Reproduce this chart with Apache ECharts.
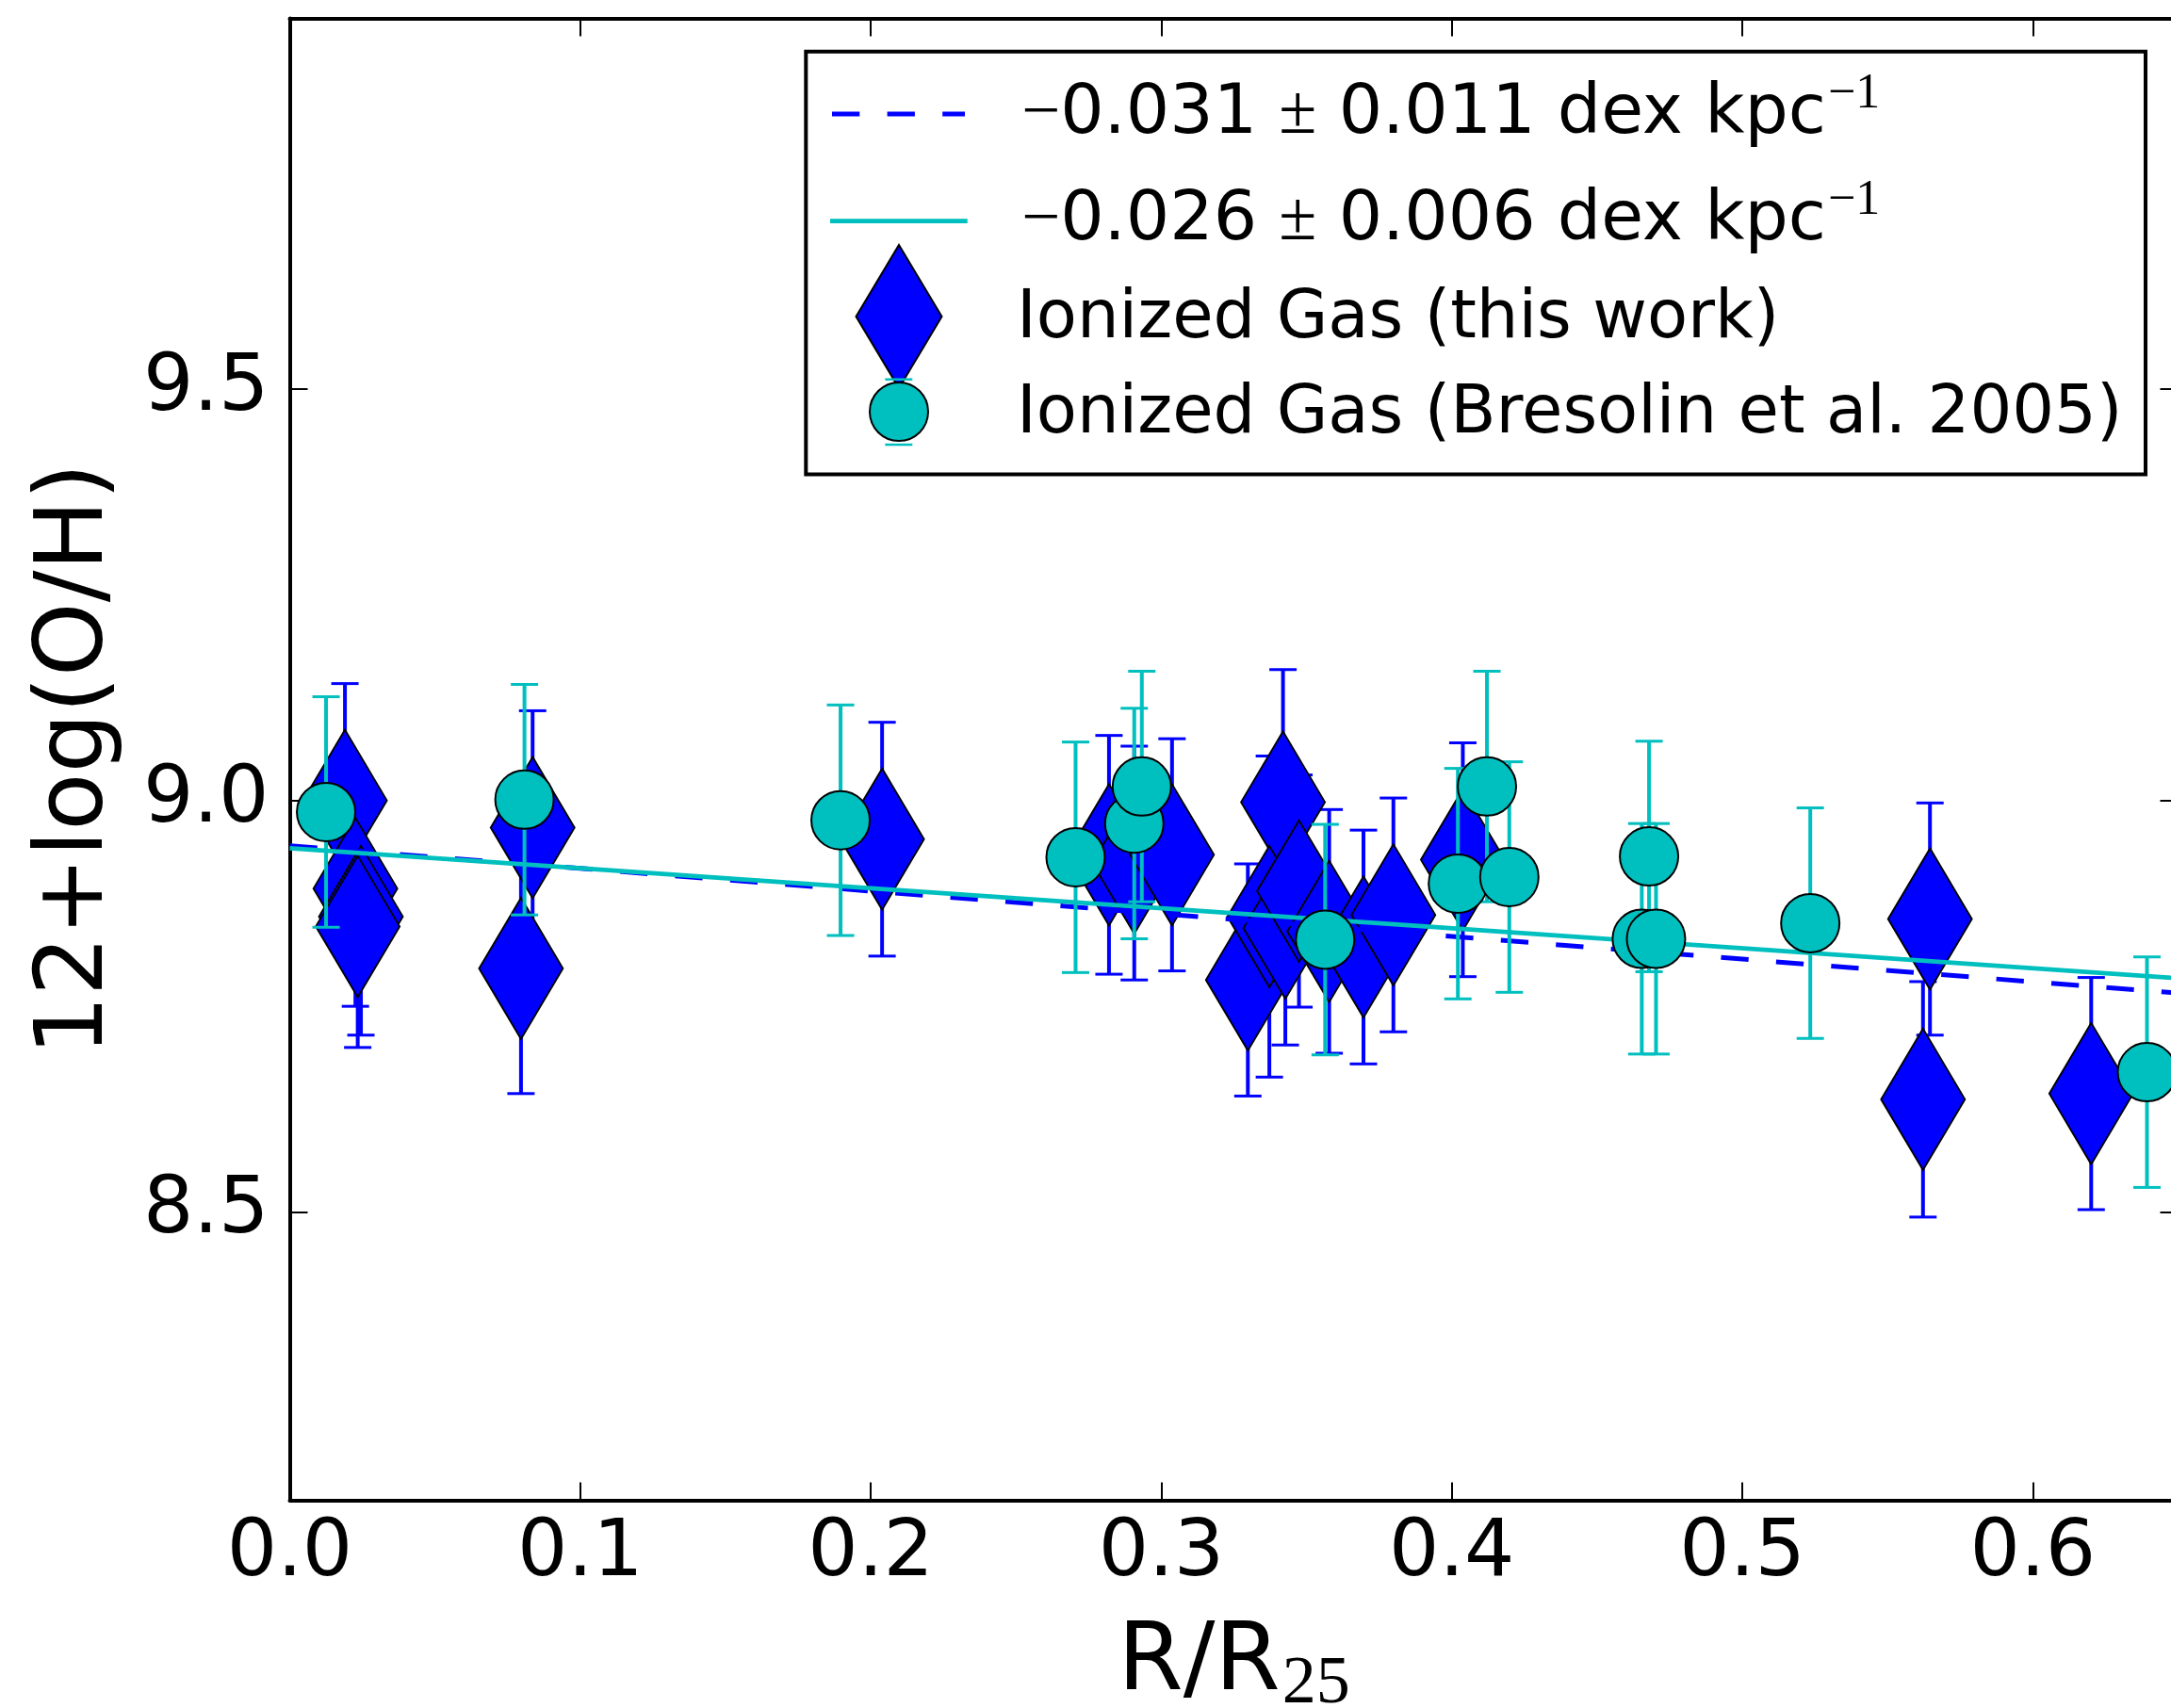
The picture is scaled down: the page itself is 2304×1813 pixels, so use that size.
<!DOCTYPE html>
<html>
<head>
<meta charset="utf-8">
<script src="https://cdn.jsdelivr.net/npm/echarts@6/dist/echarts.min.js"></script>
<style>
html,body{margin:0;padding:0;background:#ffffff;}
#chart{width:2304px;height:1813px;}
</style>
</head>
<body>
<div id="chart"></div>
<script>
// ---------------- data ----------------
const xTickValues = [0, 0.1, 0.2, 0.3, 0.4, 0.5, 0.6];
const yTickValues = [8.5, 9.0, 9.5];

// Ionized Gas (this work): R/R25, 12+log(O/H), error
const thisWorkR   = [0.019, 0.0226, 0.0245, 0.0234, 0.0836, 0.0796, 0.2039, 0.2820, 0.2907, 0.3037, 0.3419, 0.3298, 0.3372, 0.3427, 0.3474, 0.3578, 0.3696, 0.3799, 0.4038, 0.5646, 0.5622, 0.6201];
const thisWorkOH  = [9.000, 8.893, 8.859, 8.847, 8.967, 8.796, 8.953, 8.934, 8.924, 8.934, 8.998, 8.782, 8.859, 8.845, 8.890, 8.841, 8.822, 8.861, 8.928, 8.856, 8.637, 8.644];
const thisWorkErr = [0.142, 0.143, 0.144, 0.147, 0.142, 0.152, 0.142, 0.145, 0.142, 0.141, 0.161, 0.141, 0.195, 0.142, 0.141, 0.148, 0.142, 0.142, 0.142, 0.141, 0.143, 0.141];

// Ionized Gas (Bresolin et al. 2005)
const bresR   = [0.0125, 0.0808, 0.1896, 0.2705, 0.2907, 0.2933, 0.3564, 0.4021, 0.4121, 0.4198, 0.4679, 0.4654, 0.4703, 0.5234, 0.6393];
const bresOH  = [8.986, 9.001, 8.976, 8.931, 8.972, 9.017, 8.831, 8.899, 9.017, 8.907, 8.932, 8.832, 8.832, 8.851, 8.670];
const bresErr = [0.14, 0.14, 0.14, 0.14, 0.14, 0.14, 0.14, 0.14, 0.14, 0.14, 0.14, 0.14, 0.14, 0.14, 0.14];

// linear fits
const fitR        = [0, 0.65];
const fitDashedOH = [8.945, 8.766];
const fitSolidOH  = [8.942, 8.784];

const legendNames = [
  '{m|\u2212}{t|0.031 }{m|\u00b1}{t| 0.011 dex kpc}{s|\u22121}',
  '{m|\u2212}{t|0.026 }{m|\u00b1}{t| 0.006 dex kpc}{s|\u22121}',
  'Ionized Gas (this work)',
  'Ionized Gas (Bresolin et al. 2005)'
];
const xTitle = '{a|R/R}{b|25}';
const yTitle = '12+log(O/H)';

// ---------------- build ----------------
const BLUE = '#0000ff';
const CYAN = '#00bfbf';
const FONT = 'DejaVu Sans';

function zip3(a, b, c) { return a.map((v, i) => [v, b[i], c[i]]); }
function zip2(a, b) { return a.map((v, i) => [v, b[i]]); }

function errRender(color) {
  return function (params, api) {
    const x = api.value(0), y = api.value(1), e = api.value(2);
    const top = api.coord([x, y + e]);
    const bot = api.coord([x, y - e]);
    const cw = 14.5;
    return {
      type: 'group',
      children: [
        {type: 'line', shape: {x1: top[0], y1: top[1], x2: bot[0], y2: bot[1]}, style: {stroke: color, lineWidth: 4}},
        {type: 'line', shape: {x1: top[0] - cw, y1: top[1], x2: top[0] + cw, y2: top[1]}, style: {stroke: color, lineWidth: 3}},
        {type: 'line', shape: {x1: bot[0] - cw, y1: bot[1], x2: bot[0] + cw, y2: bot[1]}, style: {stroke: color, lineWidth: 3}}
      ]
    };
  };
}

const axisLineStyle = {show: true, onZero: false, lineStyle: {color: '#000', width: 4}};
const tickStyle = (vals) => ({show: true, inside: true, length: 19, lineStyle: {color: '#000', width: 2}, customValues: vals});

const chart = echarts.init(document.getElementById('chart'), null, {renderer: 'canvas'});

const legendTextRich = {
  m: {fontFamily: 'Liberation Serif', fontSize: 73, color: '#000', lineHeight: 120},
  t: {fontFamily: FONT, fontSize: 73, color: '#000', lineHeight: 120},
  s: {fontFamily: 'Liberation Serif', fontSize: 52, color: '#000', lineHeight: 40, padding: [0, 0, 44, 2]}
};

const option = {
  backgroundColor: '#ffffff',
  animation: false,
  grid: {left: 307.5, top: 19.5, width: 2004, height: 1573, containLabel: false, outerBoundsMode: 'none'},
  xAxis: [
    {
      type: 'value', position: 'bottom', min: 0, max: 0.65,
      axisLine: axisLineStyle,
      axisTick: tickStyle(xTickValues),
      axisLabel: {customValues: xTickValues, formatter: v => v.toFixed(1), fontSize: 84, fontFamily: FONT, color: '#000', margin: 16},
      splitLine: {show: false},
      name: xTitle, nameLocation: 'middle', nameGap: 97,
      nameTextStyle: {
        fontSize: 100, fontFamily: FONT, color: '#000', lineHeight: 140,
        rich: {
          a: {fontSize: 100, fontFamily: FONT, color: '#000', lineHeight: 140},
          b: {fontSize: 72, fontFamily: 'Liberation Serif', color: '#000', lineHeight: 40, padding: [42, 0, 0, 2]}
        }
      }
    },
    {
      type: 'value', position: 'top', min: 0, max: 0.65,
      axisLine: axisLineStyle,
      axisTick: tickStyle(xTickValues),
      axisLabel: {show: false},
      splitLine: {show: false}
    }
  ],
  yAxis: [
    {
      type: 'value', position: 'left', min: 8.15, max: 9.95,
      axisLine: axisLineStyle,
      axisTick: tickStyle(yTickValues),
      axisLabel: {customValues: yTickValues, formatter: v => v.toFixed(1), fontSize: 84, fontFamily: FONT, color: '#000', margin: 22},
      splitLine: {show: false},
      name: yTitle, nameLocation: 'middle', nameGap: 175, nameRotate: 90,
      nameTextStyle: {fontSize: 100, fontFamily: FONT, color: '#000'}
    },
    {
      type: 'value', position: 'right', min: 8.15, max: 9.95,
      axisLine: axisLineStyle,
      axisTick: tickStyle(yTickValues),
      axisLabel: {show: false},
      splitLine: {show: false}
    }
  ],
  series: [
    {
      name: 'err-this', type: 'custom', renderItem: errRender(BLUE),
      data: zip3(thisWorkR, thisWorkOH, thisWorkErr), z: 2, silent: true,
      encode: {x: 0, y: 1}
    },
    {
      name: legendNames[2], type: 'scatter', symbol: 'diamond', symbolSize: [89, 150],
      data: zip2(thisWorkR, thisWorkOH), z: 3, silent: true,
      itemStyle: {color: BLUE, borderColor: '#000', borderWidth: 2, opacity: 1}
    },
    {
      name: 'fit-dashed', type: 'line', data: zip2(fitR, fitDashedOH), showSymbol: false, z: 4, silent: true,
      lineStyle: {color: BLUE, width: 5, type: [29.3, 29.3]}
    },
    {
      name: 'fit-solid', type: 'line', data: zip2(fitR, fitSolidOH), showSymbol: false, z: 4, silent: true,
      lineStyle: {color: CYAN, width: 4.7, type: 'solid'}
    },
    {
      name: 'err-bres', type: 'custom', renderItem: errRender(CYAN),
      data: zip3(bresR, bresOH, bresErr), z: 5, silent: true,
      encode: {x: 0, y: 1}
    },
    {
      name: legendNames[3], type: 'scatter', symbol: 'circle', symbolSize: 62,
      data: zip2(bresR, bresOH), z: 6, silent: true,
      itemStyle: {color: CYAN, borderColor: '#000', borderWidth: 2, opacity: 1}
    }
  ],
  graphic: [
    {type: 'rect', z: 100, shape: {x: 855.3, y: 54.7, width: 1421.7, height: 448.8}, style: {fill: '#fff', stroke: '#000', lineWidth: 4}},
    {type: 'line', z: 101, shape: {x1: 883, y1: 121, x2: 1024, y2: 121}, style: {stroke: BLUE, lineWidth: 5, lineDash: [29.3, 29.3]}},
    {type: 'line', z: 101, shape: {x1: 881, y1: 234.7, x2: 1026.7, y2: 234.7}, style: {stroke: CYAN, lineWidth: 4.7}},
    {type: 'polygon', z: 101, shape: {points: [[954, 260], [999.5, 336], [954, 412], [908.5, 336]]}, style: {fill: BLUE, stroke: '#000', lineWidth: 2}},
    {type: 'line', z: 102, shape: {x1: 939.3, y1: 402.7, x2: 968.3, y2: 402.7}, style: {stroke: CYAN, lineWidth: 2.5}},
    {type: 'line', z: 102, shape: {x1: 939.3, y1: 472, x2: 968.3, y2: 472}, style: {stroke: CYAN, lineWidth: 2.5}},
    {type: 'circle', z: 103, shape: {cx: 954, cy: 437, r: 31}, style: {fill: CYAN, stroke: '#000', lineWidth: 2}},
    {type: 'text', z: 104, x: 1084, y: 122.3, style: {text: legendNames[0], rich: legendTextRich, verticalAlign: 'middle', align: 'left'}},
    {type: 'text', z: 104, x: 1084, y: 235, style: {text: legendNames[1], rich: legendTextRich, verticalAlign: 'middle', align: 'left'}},
    {type: 'text', z: 104, x: 1079, y: 340, style: {text: legendNames[2], fontFamily: FONT, fontSize: 70.5, fill: '#000', verticalAlign: 'middle', align: 'left'}},
    {type: 'text', z: 104, x: 1079, y: 441, style: {text: legendNames[3], fontFamily: FONT, fontSize: 70.5, fill: '#000', verticalAlign: 'middle', align: 'left'}}
  ]
};
chart.setOption(option);
</script>
</body>
</html>
